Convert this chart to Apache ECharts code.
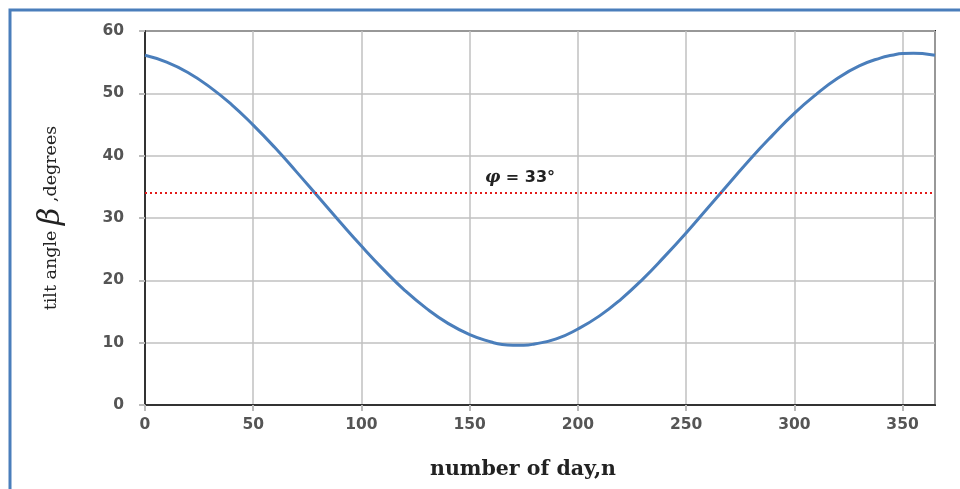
<!DOCTYPE html>
<html>
<head>
<meta charset="utf-8">
<script src="https://cdn.jsdelivr.net/npm/echarts@6/dist/echarts.min.js"></script>
<style>html,body{margin:0;padding:0;background:#fff}#c{width:960px;height:489px}</style>
</head>
<body>
<div id="c"></div>
<script>
const days = [0,10,20,30,40,50,60,70,80,90,100,110,120,130,140,150,160,165,170,175,180,190,200,210,220,230,240,250,260,270,280,290,300,310,320,330,340,345,350,355,360,365];
const tilt = [56.1,55.0,53.3,51.0,48.2,44.9,41.3,37.4,33.4,29.4,25.5,21.8,18.4,15.5,13.1,11.3,10.1,9.7,9.6,9.6,9.8,10.6,12.2,14.3,17.0,20.2,23.8,27.6,31.6,35.6,39.6,43.3,46.8,49.8,52.4,54.4,55.7,56.1,56.4,56.45,56.35,56.1];
const latitudeLine = 34;
const latitudeSymbol = 'φ';
const latitudeText = ' = 33°';
const xTicks = [0,50,100,150,200,250,300,350];
const yTicks = [0,10,20,30,40,50,60];

const chart = echarts.init(document.getElementById('c'));
const labelStyle = {color:'#555', fontWeight:'bold', fontSize:15.5, fontFamily:'DejaVu Sans, sans-serif'};
chart.setOption({
  animation:false,
  backgroundColor:'#fff',
  grid:{left:145, right:25, top:31, bottom:84, show:true, borderColor:'#222', borderWidth:2, backgroundColor:'transparent'},
  xAxis:{type:'value', min:0, max:365, interval:50,
    axisLine:{show:true, lineStyle:{color:'#333', width:2}},
    axisTick:{show:true, length:6, lineStyle:{color:'#bbb', width:2}},
    splitLine:{show:true, lineStyle:{color:'#c0c0c0', width:1.5}},
    axisLabel:Object.assign({margin:12, showMaxLabel:false, formatter:v=>xTicks.includes(v)?String(v):''}, labelStyle),
    name:'number of day,n', nameLocation:'middle', nameGap:54,
    nameTextStyle:{fontFamily:'DejaVu Serif, serif', fontWeight:'bold', fontSize:20.5, color:'#222', padding:[0,34,0,0]}
  },
  yAxis:{type:'value', min:0, max:60, interval:10,
    axisLine:{show:true, lineStyle:{color:'#333', width:2}},
    axisTick:{show:true, length:6, lineStyle:{color:'#bbb', width:2}},
    splitLine:{show:true, lineStyle:{color:'#c0c0c0', width:1.5}},
    axisLabel:Object.assign({margin:21, formatter:v=>yTicks.includes(v)?String(v):''}, labelStyle),
    name:'{a|tilt angle }{b|β}{a| ,degrees}', nameLocation:'middle', nameGap:79,
    nameTextStyle:{padding:[0,0,0,0], rich:{
      a:{fontFamily:'DejaVu Serif, serif', fontSize:17.5, color:'#222'},
      b:{fontFamily:'DejaVu Serif, serif', fontStyle:'italic', fontSize:30, color:'#222'}
    }}
  },
  series:[{
    type:'line', data:days.map((d,i)=>[d,tilt[i]]), smooth:true, showSymbol:false,
    lineStyle:{color:'#4a7ebb', width:3},
    markLine:{silent:true, symbol:'none',
      data:[{yAxis:latitudeLine}],
      lineStyle:{color:'#e31a1a', type:[2,3], width:2},
      label:{show:true, position:'insideMiddleTop', formatter:'{p|'+latitudeSymbol+'}{t|'+latitudeText+'}', distance:[0,7], offset:[-20,0],
        rich:{
          p:{fontFamily:'DejaVu Serif, serif', fontStyle:'italic', fontWeight:'bold', fontSize:17, color:'#222'},
          t:{fontFamily:'DejaVu Sans, sans-serif', fontWeight:'bold', fontSize:16, color:'#222'}
        }}
    }
  }],
  graphic:[{type:'rect', shape:{x:10, y:10, width:1200, height:800}, style:{fill:'none', stroke:'#4a7ebb', lineWidth:3}, silent:true}]
});
</script>
</body>
</html>
